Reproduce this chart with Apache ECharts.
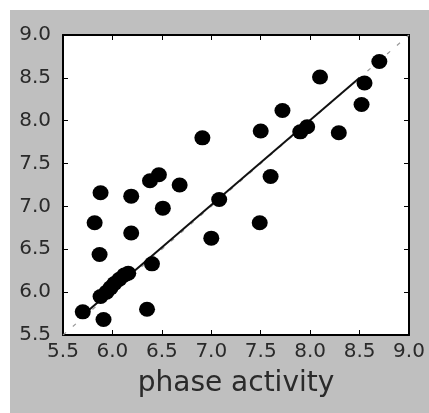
<!DOCTYPE html>
<html>
<head>
<meta charset="utf-8">
<script src="https://cdn.jsdelivr.net/npm/echarts@6/dist/echarts.min.js"></script>
<style>
  html, body { margin: 0; padding: 0; background: #fff; }
  #chart { width: 429px; height: 413px; }
</style>
</head>
<body>
<div id="chart"></div>
<script>
// scatter points
var phaseX = [5.70, 5.91, 6.35, 5.87, 6.40, 5.82, 6.19, 5.88, 6.19, 6.38, 6.47, 6.68, 6.51, 6.91,
  7.00, 7.08, 7.49, 7.60, 7.50, 7.72, 7.90, 7.97, 8.29, 8.10, 8.52, 8.55, 8.70,
  5.88, 5.94, 5.98, 6.02, 6.07, 6.12, 6.16];
var phaseY = [5.77, 5.68, 5.80, 6.44, 6.33, 6.81, 6.69, 7.16, 7.12, 7.30, 7.37, 7.25, 6.98, 7.80,
  6.63, 7.08, 6.81, 7.35, 7.88, 8.12, 7.87, 7.93, 7.86, 8.51, 8.19, 8.44, 8.69,
  5.95, 6.00, 6.05, 6.10, 6.15, 6.20, 6.22];
// fitted line and identity line
var fitX = [5.75, 8.50];
var fitY = [5.78, 8.50];
var diagX = [5.5, 9.0];
var diagY = [5.5, 9.0];
var ticks = [5.5, 6.0, 6.5, 7.0, 7.5, 8.0, 8.5, 9.0];

var chart = echarts.init(document.getElementById('chart'));

var pts = phaseX.map(function (x, i) { return [x, phaseY[i]]; });
var fit = fitX.map(function (x, i) { return [x, fitY[i]]; });
var diag = diagX.map(function (x, i) { return [x, diagY[i]]; });

var font = 'DejaVu Sans';
function axis(pos, showLabel) {
  return {
    type: 'value',
    position: pos,
    min: ticks[0],
    max: ticks[ticks.length - 1],
    interval: 0.5,
    axisLine: { show: true, onZero: false, lineStyle: { color: '#000', width: 2 } },
    axisTick: { show: true, inside: true, length: 5, lineStyle: { color: '#000', width: 1 } },
    splitLine: { show: false },
    axisLabel: {
      show: showLabel,
      color: '#2a2a2a',
      fontFamily: font,
      fontSize: 20,
      margin: pos === 'left' ? 12 : 7,
      formatter: function (v) { return v.toFixed(1); }
    }
  };
}

var xBottom = axis('bottom', true);
xBottom.name = 'phase activity';
xBottom.nameLocation = 'middle';
xBottom.nameGap = 35;
xBottom.nameTextStyle = { color: '#2a2a2a', fontFamily: font, fontSize: 28 };

var option = {
  animation: false,
  graphic: [{
    type: 'rect',
    z: -10,
    shape: { x: 10, y: 10, width: 419, height: 403 },
    style: { fill: '#bfbfbf' }
  }],
  grid: {
    left: 63, top: 35, right: 20, bottom: 78,
    show: true, backgroundColor: '#fff', borderWidth: 0
  },
  xAxis: [xBottom, axis('top', false)],
  yAxis: [axis('left', true), axis('right', false)],
  series: [
    {
      type: 'line',
      data: diag,
      symbol: 'none',
      lineStyle: { color: '#999', width: 1.2, type: [4, 9] },
      z: 1
    },
    {
      type: 'line',
      data: fit,
      symbol: 'none',
      lineStyle: { color: '#111', width: 2 },
      z: 2
    },
    {
      type: 'scatter',
      data: pts,
      symbol: 'circle',
      symbolSize: [16, 15],
      itemStyle: { color: '#000', opacity: 1 },
      z: 3
    }
  ]
};
chart.setOption(option);
</script>
</body>
</html>
